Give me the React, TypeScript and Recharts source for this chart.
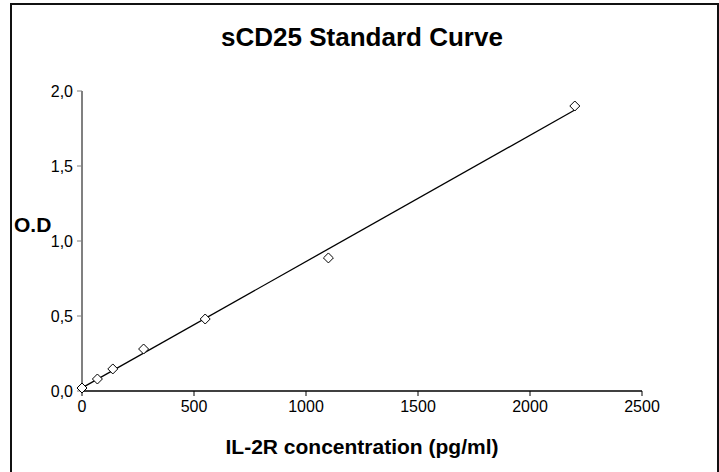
import { ScatterChart, Scatter, XAxis, YAxis } from "recharts";

const concentrations = [0, 68.75, 137.5, 275, 550, 1100, 2200];
const opticalDensity = [0.02, 0.08, 0.147, 0.28, 0.48, 0.887, 1.9];
const xTicks = [0, 500, 1000, 1500, 2000, 2500];
const yTicks = [0, 0.5, 1, 1.5, 2];

const points = concentrations.map((x, i) => ({ x, y: opticalDensity[i] }));

// least squares trendline over the standards
const n = points.length;
const mx = concentrations.reduce((a, b) => a + b, 0) / n;
const my = opticalDensity.reduce((a, b) => a + b, 0) / n;
let sxy = 0;
let sxx = 0;
points.forEach((p) => {
    sxy += (p.x - mx) * (p.y - my);
    sxx += (p.x - mx) * (p.x - mx);
});
const slope = sxy / sxx;
const intercept = my - slope * mx;
const xMax = concentrations[concentrations.length - 1];
const trend = [
    { x: 0, y: intercept },
    { x: xMax, y: intercept + slope * xMax },
];

const font = "'Liberation Sans', Arial, sans-serif";

const Diamond = (props: any) => {
    const { cx, cy } = props;
    const r = 5;
    return (
        <path
            d={`M${cx},${cy - r}L${cx + r},${cy}L${cx},${cy + r}L${cx - r},${cy}Z`}
            fill="#fff"
            stroke="#000"
            strokeWidth={1}
        />
    );
};

export default function App() {
    return (
        <div
            style={{
                position: "absolute",
                left: 0,
                top: 0,
                width: 719,
                height: 472,
                overflow: "hidden",
                background: "#fff",
                fontFamily: font,
            }}
        >
            <div
                style={{
                    position: "absolute",
                    left: 10,
                    top: 3,
                    width: 705,
                    height: 480,
                    border: "2px solid #111",
                }}
            />
            <div
                style={{
                    position: "absolute",
                    left: 0,
                    width: 724,
                    top: 22,
                    textAlign: "center",
                    fontWeight: "bold",
                    fontSize: 26,
                }}
            >
                sCD25 Standard Curve
            </div>
            <div
                style={{
                    position: "absolute",
                    left: 14,
                    top: 213,
                    fontWeight: "bold",
                    fontSize: 21,
                }}
            >
                O.D
            </div>
            <div
                style={{
                    position: "absolute",
                    left: 82,
                    width: 560,
                    top: 435,
                    textAlign: "center",
                    fontWeight: "bold",
                    fontSize: 21,
                }}
            >
                IL-2R concentration (pg/ml)
            </div>
            <div style={{ position: "absolute", left: 0, top: 0 }}>
                <ScatterChart
                    width={719}
                    height={472}
                    margin={{ top: 91, right: 77, bottom: 51, left: 0 }}
                >
                    <XAxis
                        type="number"
                        dataKey="x"
                        domain={[0, 2500]}
                        ticks={xTicks}
                        tickSize={5}
                        tickMargin={5}
                        height={30}
                        axisLine={{ stroke: "#000", strokeWidth: 1.5 }}
                        tickLine={{ stroke: "#000" }}
                        tick={{ fill: "#000", fontSize: 16, fontFamily: font }}
                        interval={0}
                    />
                    <YAxis
                        type="number"
                        dataKey="y"
                        domain={[0, 2]}
                        ticks={yTicks}
                        width={82}
                        tickSize={5}
                        tickMargin={4}
                        axisLine={{ stroke: "#808080", strokeWidth: 2 }}
                        tickLine={{ stroke: "#808080" }}
                        tick={{ fill: "#000", fontSize: 16, fontFamily: font }}
                        tickFormatter={(v: number) => v.toFixed(1).replace(".", ",")}
                        interval={0}
                    />
                    <Scatter
                        data={trend}
                        line={{ stroke: "#000", strokeWidth: 1.3 }}
                        shape={() => null}
                        isAnimationActive={false}
                    />
                    <Scatter
                        data={points}
                        shape={Diamond}
                        isAnimationActive={false}
                    />
                </ScatterChart>
            </div>
        </div>
    );
}
